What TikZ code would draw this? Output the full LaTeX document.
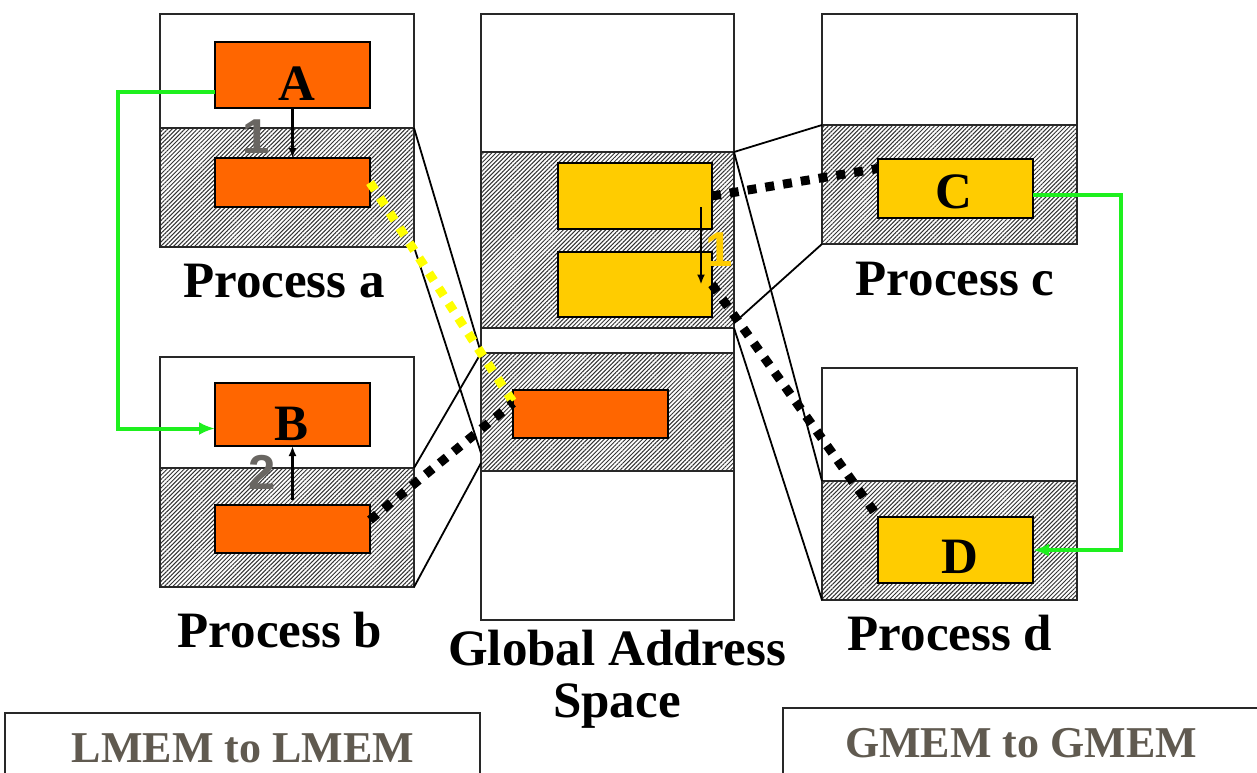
\documentclass[tikz,border=0pt]{standalone}
\usepackage{fontspec}
\setmainfont{Liberation Serif}
\newfontfamily\digitfont{Liberation Sans}
\usetikzlibrary{patterns.meta,arrows.meta}

\definecolor{procorange}{HTML}{FF6600}
\definecolor{gold}{HTML}{FFCC00}
\definecolor{brightyellow}{HTML}{FFFF00}
\definecolor{linkgreen}{RGB}{30,240,30}
\definecolor{stepgray}{RGB}{105,102,98}
\definecolor{captiongray}{RGB}{96,90,80}
\definecolor{framegray}{RGB}{40,40,40}

\tikzset{
  frame/.style={draw=framegray, line width=1.3pt, fill=white, inner sep=0pt, outer sep=0pt},
  shared/.style={draw=framegray, line width=1.3pt, inner sep=0pt, outer sep=0pt,
    pattern={Lines[angle=45,distance=3pt,line width=1pt]}, pattern color=black!80},
  datablock/.style={draw=black, line width=2pt, inner sep=0pt, outer sep=0pt, minimum width=155pt},
  letter/.style={font=\fontsize{51}{52}\selectfont\bfseries, inner sep=0pt, anchor=base},
  title/.style={font=\fontsize{51}{52}\selectfont\bfseries, inner sep=0pt, anchor=base, align=center},
  caption/.style={font=\fontsize{44}{46}\selectfont\bfseries, text=captiongray, inner sep=0pt, anchor=base},
  stepnum/.style={font=\digitfont\fontsize{49}{50}\selectfont\bfseries, inner sep=0pt},
  mapline/.style={draw=black, line width=1.8pt},
  copyline/.style={line width=9pt, dash pattern=on 9pt off 9pt},
  localcopy/.style={-{Latex[length=10pt,width=8pt]}, line width=2.2pt},
  greenlink/.style={draw=linkgreen, line width=4pt, -{Latex[length=16pt,width=13pt]}},
}

\begin{document}
\begin{tikzpicture}[x=1pt,y=-1pt]
\useasboundingbox (0,0) rectangle (1257,772);
\clip (0,0) rectangle (1257,772);
\fill[white] (0,0) rectangle (1257,772);

% Process a
\node[frame, minimum width=254pt, minimum height=233pt] (pa) at (287,130.5) {};
\node[shared, minimum width=254pt, minimum height=119pt] (pah) at (287,187.5) {};
\node[datablock, fill=procorange, minimum height=66pt] (A) at (292.5,75) {};
\node[datablock, fill=procorange, minimum height=49pt] (a2) at (292.5,182.5) {};
\node[letter] (Al) at (297,100) {A};
\node[title] (pal) at (284,297) {Process a};

% Process b
\node[frame, minimum width=254pt, minimum height=230pt] (pb) at (287,472) {};
\node[shared, minimum width=254pt, minimum height=119pt] (pbh) at (287,527.5) {};
\node[datablock, fill=procorange, minimum height=63pt] (B) at (292.5,414.5) {};
\node[datablock, fill=procorange, minimum height=48pt] (b2) at (292.5,529) {};
\node[letter] (Bl) at (292,440) {B};
\node[title] (pbl) at (280,647) {Process b};

% Global address space
\node[frame, minimum width=253pt, minimum height=606pt] (gas) at (607.5,317) {};
\node[shared, minimum width=253pt, minimum height=176pt] (g1) at (607.5,240) {};
\node[shared, minimum width=253pt, minimum height=118pt] (g2) at (607.5,412) {};
\node[datablock, fill=gold, minimum width=154pt, minimum height=66pt] (y1) at (635,196) {};
\node[datablock, fill=gold, minimum width=154pt, minimum height=65pt] (y2) at (635,284.5) {};
\node[datablock, fill=procorange, minimum height=48pt] (go) at (590.5,414) {};
\node[title] (gasl) at (617,717) {Global Address\\Space};

% Process c
\node[frame, minimum width=255pt, minimum height=230pt] (pc) at (949.5,129) {};
\node[shared, minimum width=255pt, minimum height=119pt] (pch) at (949.5,184.5) {};
\node[datablock, fill=gold, minimum height=59pt] (C) at (955.5,188.5) {};
\node[letter] (Cl) at (954,208) {C};
\node[title] (pcl) at (955,295) {Process c};

% Process d
\node[frame, minimum width=255pt, minimum height=232pt] (pd) at (949.5,484) {};
\node[shared, minimum width=255pt, minimum height=119pt] (pdh) at (949.5,540.5) {};
\node[datablock, fill=gold, minimum height=66pt] (D) at (955.5,550) {};
\node[letter] (Dl) at (960,573) {D};
\node[title] (pdl) at (950,650) {Process d};

% where the shared regions land in the global space
\coordinate (ga) at (481,453);
\coordinate (gb) at (481,463);
\coordinate (gc) at (734,323);
\draw[mapline] (pah.north east) -- (g2.north west);
\draw[mapline] (pah.south east) -- (ga);
\draw[mapline] (pbh.north east) -- (g2.north west);
\draw[mapline] (pbh.south east) -- (gb);
\draw[mapline] (pch.north west) -- (g1.north east);
\draw[mapline] (pch.south west) -- (gc);
\draw[mapline] (pdh.north west) -- (g1.north east);
\draw[mapline] (pdh.south west) -- (g1.south east);

% copies through global memory
\draw[copyline, brightyellow] (a2.east) -- ([yshift=-12pt]go.north west);
\draw[copyline, black] ([yshift=9pt]b2.east) -- ([yshift=11pt]go.west);
\draw[copyline, black] (y1.east) -- ([yshift=20pt]C.west);
\draw[copyline, black] (y2.east) -- (D.north west);

% local copies
\draw[localcopy] (A.south) -- (a2.north);
\draw[localcopy] ([yshift=5pt]b2.north) -- (B.south);
\draw[localcopy] ([xshift=-11pt,yshift=-11pt]y1.east) -- ([xshift=-11pt]y2.east);
\node[stepnum, text=stepgray] (s1) at (256,137) {1};
\node[stepnum, text=stepgray] (s2) at (262,472) {2};
\node[stepnum, text=gold] (s3) at (719,250) {1};

% direct transfers
\draw[greenlink] ([yshift=-17pt]A.west) -- ++(-97,0) |- ([yshift=-14pt]B.west);
\draw[greenlink] ([yshift=-6.5pt]C.east) -- ++(88,0) |- (D.east);

% captions
\node[draw=framegray, line width=1.3pt, fill=white, inner sep=0pt, outer sep=0pt,
      minimum width=475pt, minimum height=100pt, anchor=north west] (lm) at (5,713) {};
\node[caption] (lml) at (243,762) {LMEM to LMEM};
\node[draw=framegray, line width=1.3pt, fill=white, inner sep=0pt, outer sep=0pt,
      minimum width=500pt, minimum height=100pt, anchor=north west] (gm) at (783,708) {};
\node[caption] (gml) at (1021,757) {GMEM to GMEM};
\end{tikzpicture}
\end{document}
